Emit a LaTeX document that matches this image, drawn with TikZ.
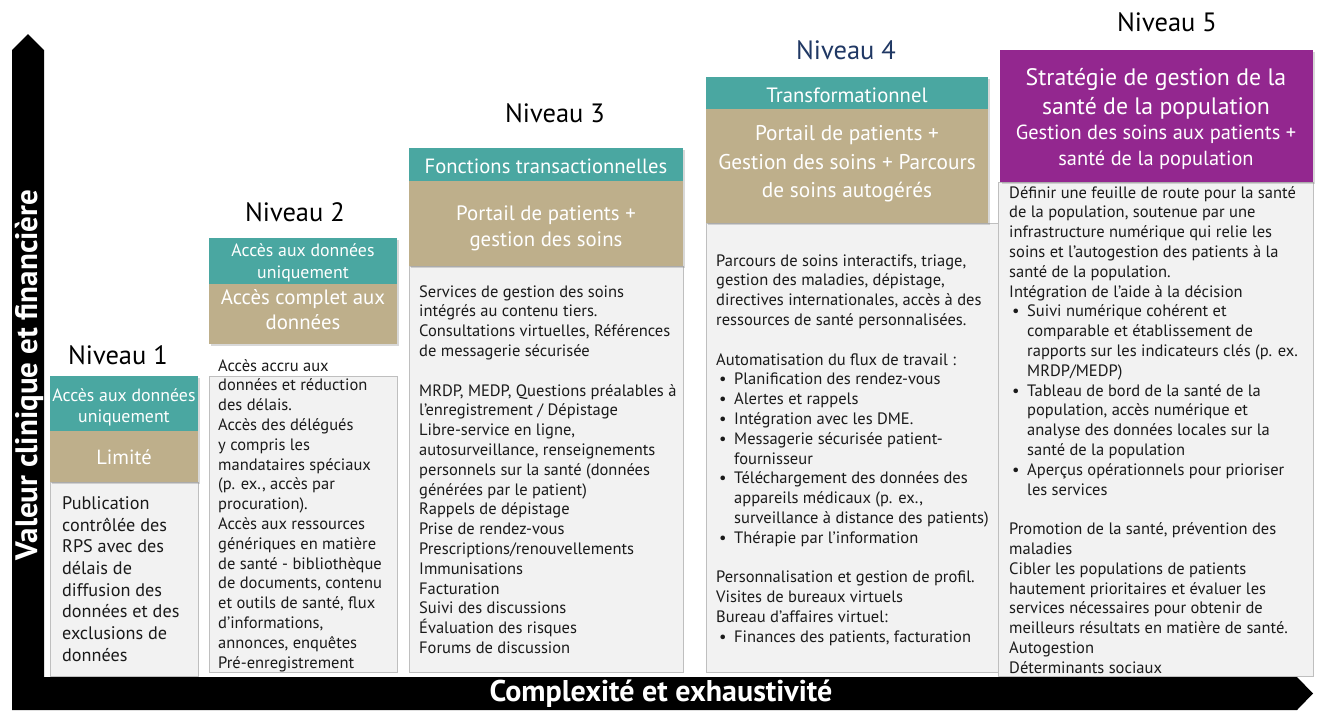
\documentclass[tikz,border=0pt]{standalone}
\usepackage{fontspec}
\setmainfont{PT Sans}
\usetikzlibrary{shadows}
\definecolor{tealc}{HTML}{4AA7A1}
\definecolor{tanc}{HTML}{BEAF8B}
\definecolor{purc}{HTML}{93278F}
\definecolor{navyc}{HTML}{203864}
\definecolor{bodyc}{HTML}{F2F2F2}
\definecolor{edgec}{HTML}{BFBFBF}
\definecolor{txtc}{HTML}{1A1A1A}
\newcommand{\bulitem}{\makebox[18pt][l]{\hspace{3pt}\textbullet}}
\newcommand{\bulind}{\hspace*{18pt}}
\begin{document}
\begin{tikzpicture}[x=1pt,y=-1pt,
  box/.style={anchor=north west, inner sep=0pt, outer sep=0pt},
  shade2/.style={drop shadow={opacity=0.3,shadow xshift=2pt,shadow yshift=-2pt}},
  tealbox/.style={box, fill=tealc, shade2},
  tanbox/.style={box, fill=tanc, shade2},
  purbox/.style={box, fill=purc, shade2},
  bodybox/.style={box, fill=bodyc, draw=edgec, line width=0.8pt},
  lvl/.style={font=\fontsize{26.5}{30}\selectfont, text=black},
  headtxt/.style={text=white, align=center, inner sep=0pt},
  bodytext/.style={anchor=north west, inner sep=0pt, align=left, text=txtc, font=\fontsize{16.5}{19.8}\selectfont},
  axislab/.style={text=white, font=\fontsize{30}{32}\selectfont\bfseries}
]
\useasboundingbox (0,0) rectangle (1317,710);
\fill[white] (0,0) rectangle (1317,710);

% ---------- column 1 ----------
\node[bodybox, minimum width=148, minimum height=194] (g1) at (50,482) {};
\node[tealbox, minimum width=148, minimum height=55] (t1) at (50,376) {};
\node[tanbox, minimum width=148, minimum height=51] (n1) at (50,431) {};
\node[lvl] (L1) at (118,355) {Niveau 1};
\node[headtxt, font=\fontsize{17.8}{21}\selectfont] (t1t) at (124,407) {Accès aux données\\uniquement};
\node[headtxt, font=\fontsize{20.5}{24}\selectfont] (n1t) at (124,457.5) {Limité};
\node[bodytext, font=\fontsize{18.2}{21.7}\selectfont] (b1) at (62,494) {\strut Publication\\contrôlée des\\RPS avec des\\délais de\\diffusion des\\données et des\\exclusions de\\données};

% ---------- column 2 ----------
\node[bodybox, minimum width=188, minimum height=296] (g2) at (209,376) {};
\node[tealbox, minimum width=188, minimum height=46] (t2) at (209,238) {};
\node[tanbox, minimum width=188, minimum height=60] (n2) at (209,284) {};
\node[lvl] (L2) at (295,212) {Niveau 2};
\node[headtxt, font=\fontsize{17.8}{22}\selectfont] (t2t) at (303,263) {Accès aux données\\uniquement};
\node[headtxt, font=\fontsize{20.8}{25}\selectfont] (n2t) at (303,309.5) {Accès complet aux\\données};
\node[bodytext] (b2) at (218,357) {\strut Accès accru aux\\données et réduction\\des délais.\\Accès des délégués\\y compris les\\mandataires spéciaux\\(p. ex., accès par\\procuration).\\Accès aux ressources\\génériques en matière\\de santé - bibliothèque\\de documents, contenu\\et outils de santé, flux\\d’informations,\\annonces, enquêtes\\Pré-enregistrement};

% ---------- column 3 ----------
\node[bodybox, minimum width=274, minimum height=406] (g3) at (409,266) {};
\node[tealbox, minimum width=274, minimum height=33] (t3) at (409,148) {};
\node[tanbox, minimum width=274, minimum height=85] (n3) at (409,181) {};
\node[lvl] (L3) at (555,113) {Niveau 3};
\node[headtxt, font=\fontsize{20.6}{24}\selectfont] (t3t) at (546,166.5) {Fonctions transactionnelles};
\node[headtxt, font=\fontsize{20.8}{26}\selectfont] (n3t) at (546,228) {Portail de patients +\\gestion des soins};
\node[bodytext] (b3) at (419,283) {\strut Services de gestion des soins\\intégrés au contenu tiers.\\Consultations virtuelles, Références\\de messagerie sécurisée\\\mbox{}\\MRDP, MEDP, Questions préalables à\\l’enregistrement / Dépistage\\Libre-service en ligne,\\autosurveillance, renseignements\\personnels sur la santé (données\\générées par le patient)\\Rappels de dépistage\\Prise de rendez-vous\\Prescriptions/renouvellements\\Immunisations\\Facturation\\Suivi des discussions\\Évaluation des risques\\Forums de discussion};

% ---------- column 4 ----------
\node[bodybox, minimum width=292, minimum height=449] (g4) at (706,223) {};
\node[tealbox, minimum width=282, minimum height=32] (t4) at (706,77) {};
\node[tanbox, minimum width=282, minimum height=114] (n4) at (706,109) {};
\node[lvl, text=navyc] (L4) at (846,50) {Niveau 4};
\node[headtxt, font=\fontsize{20.7}{24}\selectfont] (t4t) at (847,95.5) {Transformationnel};
\node[headtxt, font=\fontsize{21.3}{28.5}\selectfont] (n4t) at (847,164) {Portail de patients +\\Gestion des soins + Parcours\\de soins autogérés};
\node[bodytext] (b4) at (716,252) {\strut Parcours de soins interactifs, triage,\\gestion des maladies, dépistage,\\directives internationales, accès à des\\ressources de santé personnalisées.\\\mbox{}\\Automatisation du flux de travail :\\\bulitem Planification des rendez-vous\\\bulitem Alertes et rappels\\\bulitem Intégration avec les DME.\\\bulitem Messagerie sécurisée patient-\\\bulind fournisseur\\\bulitem Téléchargement des données des\\\bulind appareils médicaux (p. ex.,\\\bulind surveillance à distance des patients)\\\bulitem Thérapie par l’information\\\mbox{}\\Personnalisation et gestion de profil.\\Visites de bureaux virtuels\\Bureau d’affaires virtuel:\\\bulitem Finances des patients, facturation};

% ---------- column 5 ----------
\node[bodybox, minimum width=315, minimum height=494] (g5) at (998,182) {};
\node[purbox, minimum width=313, minimum height=132] (p5) at (1000,50) {};
\node[lvl] (L5) at (1167,22) {Niveau 5};
\node[headtxt, font=\fontsize{23.8}{29}\selectfont] (p5a) at (1156,94) {Stratégie de gestion de la\\santé de la population};
\node[headtxt, font=\fontsize{20.4}{26}\selectfont] (p5b) at (1156,147.5) {Gestion des soins aux patients +\\santé de la population};
\node[bodytext] (b5) at (1009,184) {\strut Définir une feuille de route pour la santé\\de la population, soutenue par une\\infrastructure numérique qui relie les\\soins et l’autogestion des patients à la\\santé de la population.\\Intégration de l’aide à la décision\\\bulitem Suivi numérique cohérent et\\\bulind comparable et établissement de\\\bulind rapports sur les indicateurs clés (p. ex.\\\bulind MRDP/MEDP)\\\bulitem Tableau de bord de la santé de la\\\bulind population, accès numérique et\\\bulind analyse des données locales sur la\\\bulind santé de la population\\\bulitem Aperçus opérationnels pour prioriser\\\bulind les services\\\mbox{}\\Promotion de la santé, prévention des\\maladies\\Cibler les populations de patients\\hautement prioritaires et évaluer les\\services nécessaires pour obtenir de\\meilleurs résultats en matière de santé.\\Autogestion\\Déterminants sociaux};

% ---------- axes ----------
\fill[black] (12,710) -- (12,50) -- (28,34) -- (44,50) -- (44,677) -- (1297,677) -- (1313,693.5) -- (1297,710) -- cycle;
\node[axislab, rotate=90, font=\fontsize{31}{32}\selectfont\bfseries] (ylab) at (29,375) {Valeur clinique et financière};
\node[axislab] (xlab) at (661,694) {Complexité et exhaustivité};
\end{tikzpicture}
\end{document}
